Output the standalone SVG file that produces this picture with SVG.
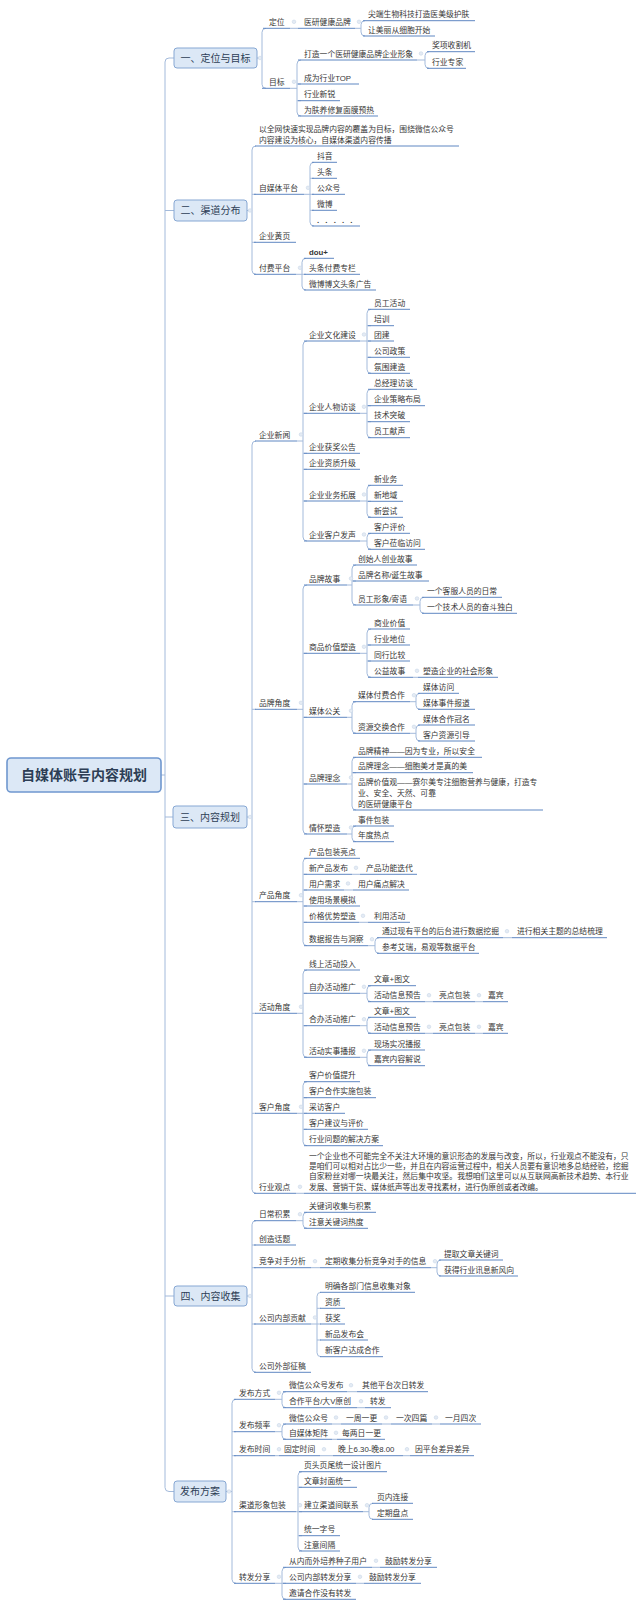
<svg xmlns="http://www.w3.org/2000/svg" width="640" height="1606" viewBox="0 0 640 1606">
<style>
text{font-family:'Liberation Sans','Noto Sans CJK SC',sans-serif;font-size:7.8px;fill:#363636}
.u{stroke:#5f87c2;stroke-width:1;fill:none}
.c{stroke:#a3badb;stroke-width:1;fill:none}
.d{fill:#e4ebf4;stroke:#c9d6e8;stroke-width:0.6}
.b{fill:#dce8f6;stroke:#86a7d3;stroke-width:1}
.bt{font-size:10px;fill:#2d3e55;text-anchor:middle}
.rt{font-size:14px;font-weight:bold;fill:#2d3e55;text-anchor:middle}
</style>
<rect width="640" height="1606" fill="#ffffff"/>
<g id="connectors">
<path class="c" d="M174,58 H169 Q165,58 165,62 V1487.5 Q165,1491.5 169,1491.5 H174 M161,775 H165 M165,210.5 H174 M165,817 H173 M165,1296 H174"/>
<path class="c" d="M257,58 H262 M266,28.3 Q262,28.3 262,32.3 V84.3 Q262,88.3 266,88.3"/>
<path class="c" d="M290,28.3 H298"/>
<path class="c" d="M355,28.3 H361 M365,20.7 Q361,20.7 361,24.7 V32 Q361,36 365,36"/>
<path class="c" d="M290,88.3 H297 M301,60 Q297,60 297,64 V112 Q297,116 301,116 M297,84 H301 M297,100.7 H301"/>
<path class="c" d="M417,60 H425 M429,51.7 Q425,51.7 425,55.7 V64.3 Q425,68.3 429,68.3"/>
<path class="c" d="M247,210.5 H252 M256,146 Q252,146 252,150 V270.3 Q252,274.3 256,274.3 M252,194.3 H256 M252,242.3 H256"/>
<path class="c" d="M304,194.3 H310 M314,162.3 Q310,162.3 310,166.3 V222 Q310,226 314,226 M310,178.3 H314 M310,194.3 H314 M310,210.3 H314"/>
<path class="c" d="M296,274.3 H302 M306,258.3 Q302,258.3 302,262.3 V286 Q302,290 306,290 M302,274.3 H306"/>
<path class="c" d="M247,817 H252 M256,441 Q252,441 252,445 V1189.3 Q252,1193.3 256,1193.3 M252,709.3 H256 M252,901.7 H256 M252,1013.3 H256 M252,1113.3 H256"/>
<path class="c" d="M297,441 H303 M307,341 Q303,341 303,345 V537 Q303,541 307,541 M303,413.3 H307 M303,453.3 H307 M303,469.3 H307 M303,501 H307"/>
<path class="c" d="M360,341 H367 M371,309.3 Q367,309.3 367,313.3 V369.3 Q367,373.3 371,373.3 M367,325.7 H371 M367,341 H371 M367,357.3 H371"/>
<path class="c" d="M360,413.3 H367 M371,389.3 Q367,389.3 367,393.3 V433.7 Q367,437.7 371,437.7 M367,405.7 H371 M367,421.7 H371"/>
<path class="c" d="M360,501 H367 M371,485.3 Q367,485.3 367,489.3 V513.3 Q367,517.3 371,517.3 M367,501.3 H371"/>
<path class="c" d="M360,541 H367 M371,533.3 Q367,533.3 367,537.3 V545.3 Q367,549.3 371,549.3"/>
<path class="c" d="M297,709.3 H303 M307,585 Q303,585 303,589 V830 Q303,834 307,834 M303,653.3 H307 M303,717.3 H307 M303,784 H307"/>
<path class="c" d="M347,585 H352 M356,565 Q352,565 352,569 V601 Q352,605 356,605 M352,581 H356"/>
<path class="c" d="M413,605 H420 M424,597.3 Q420,597.3 420,601.3 V609.3 Q420,613.3 424,613.3"/>
<path class="c" d="M360,653.3 H367 M371,629 Q367,629 367,633 V673.3 Q367,677.3 371,677.3 M367,645 H371 M367,661 H371"/>
<path class="c" d="M413,677.3 H418"/>
<path class="c" d="M347,717.3 H352 M356,701.7 Q352,701.7 352,705.7 V729.3 Q352,733.3 356,733.3"/>
<path class="c" d="M410,701.7 H416 M420,693.3 Q416,693.3 416,697.3 V705.3 Q416,709.3 420,709.3"/>
<path class="c" d="M410,733.3 H416 M420,725 Q416,725 416,729 V737 Q416,741 420,741"/>
<path class="c" d="M347,784 H352 M356,757.3 Q352,757.3 352,761.3 V806 Q352,810 356,810 M352,772.7 H356"/>
<path class="c" d="M347,834 H352 M356,826 Q352,826 352,830 V837.7 Q352,841.7 356,841.7"/>
<path class="c" d="M297,901.7 H303 M307,858.3 Q303,858.3 303,862.3 V941.7 Q303,945.7 307,945.7 M303,874.3 H307 M303,890 H307 M303,906 H307 M303,922.3 H307"/>
<path class="c" d="M352,874.3 H360 M344,890 H353 M359,922.3 H368"/>
<path class="c" d="M368,945.7 H375 M379,937.7 Q375,937.7 375,941.7 V949.3 Q375,953.3 379,953.3 M503,937.7 H512"/>
<path class="c" d="M297,1013.3 H303 M307,970 Q303,970 303,974 V1053.3 Q303,1057.3 307,1057.3 M303,993.3 H307 M303,1025.7 H307"/>
<path class="c" d="M360,993.3 H367 M371,985.7 Q367,985.7 367,989.7 V997.7 Q367,1001.7 371,1001.7 M425,1001.7 H433 M475,1001.7 H483"/>
<path class="c" d="M360,1025.7 H367 M371,1017.3 Q367,1017.3 367,1021.3 V1029.3 Q367,1033.3 371,1033.3 M425,1033.3 H433 M475,1033.3 H483"/>
<path class="c" d="M360,1057.3 H367 M371,1050 Q367,1050 367,1054 V1061.7 Q367,1065.7 371,1065.7"/>
<path class="c" d="M297,1113.3 H303 M307,1081.7 Q303,1081.7 303,1085.7 V1141.7 Q303,1145.7 307,1145.7 M303,1097.7 H307 M303,1113.3 H307 M303,1129.3 H307"/>
<path class="c" d="M296,1193.3 H304"/>
<path class="c" d="M247,1296 H252 M256,1220.7 Q252,1220.7 252,1224.7 V1368.3 Q252,1372.3 256,1372.3 M252,1245 H256 M252,1267.7 H256 M252,1324 H256"/>
<path class="c" d="M296,1220.7 H303 M307,1212.3 Q303,1212.3 303,1216.3 V1224.3 Q303,1228.3 307,1228.3"/>
<path class="c" d="M311,1267.7 H320 M431,1267.7 H437 M441,1260 Q437,1260 437,1264 V1272 Q437,1276 441,1276"/>
<path class="c" d="M311,1324 H317 M321,1292.3 Q317,1292.3 317,1296.3 V1352.7 Q317,1356.7 321,1356.7 M317,1308.3 H321 M317,1324 H321 M317,1340 H321"/>
<path class="c" d="M226,1491.5 H232 M236,1399.3 Q232,1399.3 232,1403.3 V1579.3 Q232,1583.3 236,1583.3 M232,1431.7 H236 M232,1455.7 H236 M232,1511.7 H236"/>
<path class="c" d="M275,1399.3 H282 M286,1391.7 Q282,1391.7 282,1395.7 V1403.7 Q282,1407.7 286,1407.7 M347,1391.7 H357 M357,1407.7 H365"/>
<path class="c" d="M275,1431.7 H282 M286,1424 Q282,1424 282,1428 V1435.3 Q282,1439.3 286,1439.3 M332,1424 H341 M382,1424 H391 M432,1424 H440 M332,1439.3 H337"/>
<path class="c" d="M275,1455.7 H279 M320,1455.7 H333 M403,1455.7 H410"/>
<path class="c" d="M296,1511.7 H298 M302,1471.7 Q298,1471.7 298,1475.7 V1547 Q298,1551 302,1551 M298,1487.3 H302 M298,1511.7 H302 M298,1535.7 H302"/>
<path class="c" d="M363,1511.7 H369 M373,1503.3 Q369,1503.3 369,1507.3 V1515.3 Q369,1519.3 373,1519.3"/>
<path class="c" d="M275,1583.3 H282 M286,1567.3 Q282,1567.3 282,1571.3 V1595.3 Q282,1599.3 286,1599.3 M282,1583.3 H286 M372,1567.3 H380 M356,1583.3 H364"/>
<g class="d">
<circle cx="260" cy="58" r="1.8"/><circle cx="250" cy="210.5" r="1.8"/><circle cx="250" cy="817" r="1.8"/><circle cx="250" cy="1296" r="1.8"/><circle cx="229" cy="1491.5" r="1.8"/>
<circle cx="294" cy="21.8" r="1.8"/><circle cx="359" cy="21.8" r="1.8"/><circle cx="294" cy="81.8" r="1.8"/><circle cx="421" cy="53.5" r="1.8"/>
<circle cx="308" cy="187.8" r="1.8"/><circle cx="300" cy="267.8" r="1.8"/>
<circle cx="301" cy="434.5" r="1.8"/><circle cx="364" cy="334.5" r="1.8"/><circle cx="364" cy="406.8" r="1.8"/><circle cx="364" cy="494.5" r="1.8"/><circle cx="364" cy="534.5" r="1.8"/>
<circle cx="301" cy="702.8" r="1.8"/><circle cx="351" cy="578.5" r="1.8"/><circle cx="417" cy="598.5" r="1.8"/><circle cx="364" cy="646.8" r="1.8"/><circle cx="417" cy="670.8" r="1.8"/><circle cx="351" cy="710.8" r="1.8"/><circle cx="414" cy="695.2" r="1.8"/><circle cx="414" cy="726.8" r="1.8"/><circle cx="351" cy="777.5" r="1.8"/><circle cx="351" cy="827.5" r="1.8"/>
<circle cx="301" cy="895.2" r="1.8"/><circle cx="356" cy="867.8" r="1.8"/><circle cx="348" cy="883.5" r="1.8"/><circle cx="363" cy="915.8" r="1.8"/><circle cx="372" cy="939.2" r="1.8"/><circle cx="507" cy="931.2" r="1.8"/>
<circle cx="301" cy="1006.8" r="1.8"/><circle cx="364" cy="986.8" r="1.8"/><circle cx="429" cy="995.2" r="1.8"/><circle cx="479" cy="995.2" r="1.8"/><circle cx="364" cy="1019.2" r="1.8"/><circle cx="429" cy="1026.8" r="1.8"/><circle cx="479" cy="1026.8" r="1.8"/><circle cx="364" cy="1050.8" r="1.8"/>
<circle cx="301" cy="1106.8" r="1.8"/><circle cx="300" cy="1186.8" r="1.8"/>
<circle cx="300" cy="1214.2" r="1.8"/><circle cx="315" cy="1261.2" r="1.8"/><circle cx="435" cy="1261.2" r="1.8"/><circle cx="315" cy="1317.5" r="1.8"/>
<circle cx="279" cy="1392.8" r="1.8"/><circle cx="351" cy="1385.2" r="1.8"/><circle cx="361" cy="1401.2" r="1.8"/><circle cx="279" cy="1425.2" r="1.8"/><circle cx="336" cy="1417.5" r="1.8"/><circle cx="386" cy="1417.5" r="1.8"/><circle cx="436" cy="1417.5" r="1.8"/><circle cx="336" cy="1432.8" r="1.8"/>
<circle cx="279" cy="1449.2" r="1.8"/><circle cx="324" cy="1449.2" r="1.8"/><circle cx="407" cy="1449.2" r="1.8"/><circle cx="300" cy="1505.2" r="1.8"/><circle cx="367" cy="1505.2" r="1.8"/>
<circle cx="279" cy="1576.8" r="1.8"/><circle cx="376" cy="1560.8" r="1.8"/><circle cx="360" cy="1576.8" r="1.8"/>
</g>
</g>
<g id="root"><rect x="7" y="758" width="154" height="34" rx="4" fill="#dce8f6" stroke="#6f97cf" stroke-width="1.6"/><text class="rt" x="84" y="780">自媒体账号内容规划</text></g>
<g id="s1"><rect class="b" x="174" y="48" width="83" height="20" rx="3"/><text class="bt" x="215.5" y="61.5">一、定位与目标</text></g>
<g id="s2"><rect class="b" x="174" y="200" width="73" height="21" rx="3"/><text class="bt" x="210.5" y="214">二、渠道分布</text></g>
<g id="s3"><rect class="b" x="173" y="806" width="74" height="22" rx="3"/><text class="bt" x="210" y="820.5">三、内容规划</text></g>
<g id="s4"><rect class="b" x="174" y="1286" width="73" height="20" rx="3"/><text class="bt" x="210.5" y="1299.5">四、内容收集</text></g>
<g id="s5"><rect class="b" x="174" y="1481" width="52" height="21" rx="3"/><text class="bt" x="200" y="1495">发布方案</text></g>

<g id="n-dw"><text x="269" y="24.8">定位</text><path class="u" d="M263,28.3H290"/></g>
<g id="n-yy"><text x="304" y="24.8">医研健康品牌</text><path class="u" d="M298,28.3H355"/></g>
<g id="n-jd"><text x="368" y="17.2">尖端生物科技打造医美级护肤</text><path class="u" d="M363,20.7H475"/></g>
<g id="n-rm"><text x="368" y="32.5">让美丽从细胞开始</text><path class="u" d="M363,36H435"/></g>
<g id="n-mb"><text x="269" y="84.8">目标</text><path class="u" d="M262,88.3H290"/></g>
<g id="n-dz"><text x="304" y="56.5">打造一个医研健康品牌企业形象</text><path class="u" d="M298,60H417"/></g>
<g id="n-jx"><text x="432" y="48.2">奖项收割机</text><path class="u" d="M427,51.7H475"/></g>
<g id="n-hz"><text x="432" y="64.8">行业专家</text><path class="u" d="M427,68.3H466"/></g>
<g id="n-top"><text x="304" y="80.5">成为行业TOP</text><path class="u" d="M298,84H359"/></g>
<g id="n-xr"><text x="304" y="97.2">行业新锐</text><path class="u" d="M298,100.7H340"/></g>
<g id="n-mm"><text x="304" y="112.5">为肤养修复面膜预热</text><path class="u" d="M298,116H378"/></g>

<g id="n-qw"><text x="259" y="131.5">以全网快速实现品牌内容的覆盖为目标，围绕微信公众号</text><text x="259" y="143">内容建设为核心，自媒体渠道内容传播</text><path class="u" d="M255,146H459"/></g>
<g id="n-zmt"><text x="259" y="190.8">自媒体平台</text><path class="u" d="M254,194.3H304"/></g>
<g id="n-dy"><text x="317" y="158.8">抖音</text><path class="u" d="M312,162.3H337"/></g>
<g id="n-tt"><text x="317" y="174.8">头条</text><path class="u" d="M312,178.3H337"/></g>
<g id="n-gzh"><text x="317" y="190.8">公众号</text><path class="u" d="M312,194.3H345"/></g>
<g id="n-wb"><text x="317" y="206.8">微博</text><path class="u" d="M312,210.3H337"/></g>
<g id="n-etc"><text x="317" y="222.5" font-weight="bold" letter-spacing="2">. . . . .</text><path class="u" d="M312,226H360"/></g>
<g id="n-hy"><text x="259" y="238.8">企业黄页</text><path class="u" d="M254,242.3H296"/></g>
<g id="n-ff"><text x="259" y="270.8">付费平台</text><path class="u" d="M254,274.3H296"/></g>
<g id="n-dou"><text x="309" y="254.8" font-weight="bold">dou+</text><path class="u" d="M304,258.3H334"/></g>
<g id="n-ttzl"><text x="309" y="270.8">头条付费专栏</text><path class="u" d="M304,274.3H360"/></g>
<g id="n-wbgg"><text x="309" y="286.5">微博博文头条广告</text><path class="u" d="M304,290H376"/></g>

<g id="n-qyxw"><text x="259" y="437.5">企业新闻</text><path class="u" d="M255,441H297"/></g>
<g id="n-whjs"><text x="309" y="337.5">企业文化建设</text><path class="u" d="M304,341H360"/></g>
<g id="n-yghd"><text x="374" y="305.8">员工活动</text><path class="u" d="M368,309.3H410"/></g>
<g id="n-px"><text x="374" y="322.2">培训</text><path class="u" d="M368,325.7H394"/></g>
<g id="n-tj"><text x="374" y="337.5">团建</text><path class="u" d="M368,341H394"/></g>
<g id="n-gszc"><text x="374" y="353.8">公司政策</text><path class="u" d="M368,357.3H410"/></g>
<g id="n-fwjz"><text x="374" y="369.8">氛围建造</text><path class="u" d="M368,373.3H410"/></g>
<g id="n-rwft"><text x="309" y="409.8">企业人物访谈</text><path class="u" d="M304,413.3H360"/></g>
<g id="n-zjl"><text x="374" y="385.8">总经理访谈</text><path class="u" d="M368,389.3H417"/></g>
<g id="n-clbj"><text x="374" y="402.2">企业策略布局</text><path class="u" d="M368,405.7H425"/></g>
<g id="n-jstp"><text x="374" y="418.2">技术突破</text><path class="u" d="M368,421.7H410"/></g>
<g id="n-ygxs"><text x="374" y="434.2">员工献声</text><path class="u" d="M368,437.7H410"/></g>
<g id="n-hjgg"><text x="309" y="449.8">企业获奖公告</text><path class="u" d="M304,453.3H360"/></g>
<g id="n-zzsj"><text x="309" y="465.8">企业资质升级</text><path class="u" d="M304,469.3H360"/></g>
<g id="n-ywtz"><text x="309" y="497.5">企业业务拓展</text><path class="u" d="M304,501H360"/></g>
<g id="n-xyw"><text x="374" y="481.8">新业务</text><path class="u" d="M368,485.3H403"/></g>
<g id="n-xdy"><text x="374" y="497.8">新地域</text><path class="u" d="M368,501.3H403"/></g>
<g id="n-xcs"><text x="374" y="513.8">新尝试</text><path class="u" d="M368,517.3H403"/></g>
<g id="n-khfs"><text x="309" y="537.5">企业客户发声</text><path class="u" d="M304,541H360"/></g>
<g id="n-khpj"><text x="374" y="529.8">客户评价</text><path class="u" d="M368,533.3H410"/></g>
<g id="n-khll"><text x="374" y="545.8">客户莅临访问</text><path class="u" d="M368,549.3H425"/></g>

<g id="n-ppjd"><text x="259" y="705.8">品牌角度</text><path class="u" d="M255,709.3H297"/></g>
<g id="n-ppgs"><text x="309" y="581.5">品牌故事</text><path class="u" d="M304,585H347"/></g>
<g id="n-csr"><text x="358" y="561.5">创始人创业故事</text><path class="u" d="M353,565H417"/></g>
<g id="n-ppmc"><text x="358" y="577.5">品牌名称/诞生故事</text><path class="u" d="M353,581H429"/></g>
<g id="n-ygxx"><text x="358" y="601.5">员工形象/寄语</text><path class="u" d="M353,605H413"/></g>
<g id="n-kf"><text x="427" y="593.8">一个客服人员的日常</text><path class="u" d="M422,597.3H502"/></g>
<g id="n-js"><text x="427" y="609.8">一个技术人员的奋斗独白</text><path class="u" d="M422,613.3H517"/></g>
<g id="n-spjz"><text x="309" y="649.8">商品价值塑造</text><path class="u" d="M304,653.3H360"/></g>
<g id="n-syjz"><text x="374" y="625.5">商业价值</text><path class="u" d="M368,629H410"/></g>
<g id="n-hydw"><text x="374" y="641.5">行业地位</text><path class="u" d="M368,645H410"/></g>
<g id="n-thbj"><text x="374" y="657.5">同行比较</text><path class="u" d="M368,661H410"/></g>
<g id="n-gygs"><text x="374" y="673.8">公益故事</text><path class="u" d="M368,677.3H413"/></g>
<g id="n-shxx"><text x="423" y="673.8">塑造企业的社会形象</text><path class="u" d="M418,677.3H498"/></g>
<g id="n-mtgg"><text x="309" y="713.8">媒体公关</text><path class="u" d="M304,717.3H347"/></g>
<g id="n-mtff"><text x="358" y="698.2">媒体付费合作</text><path class="u" d="M353,701.7H410"/></g>
<g id="n-mtfw"><text x="423" y="689.8">媒体访问</text><path class="u" d="M418,693.3H459"/></g>
<g id="n-mtsj"><text x="423" y="705.8">媒体事件报道</text><path class="u" d="M418,709.3H475"/></g>
<g id="n-zyjh"><text x="358" y="729.8">资源交换合作</text><path class="u" d="M353,733.3H410"/></g>
<g id="n-mtgm"><text x="423" y="721.5">媒体合作冠名</text><path class="u" d="M418,725H475"/></g>
<g id="n-khzy"><text x="423" y="737.5">客户资源引导</text><path class="u" d="M418,741H475"/></g>
<g id="n-ppln"><text x="309" y="780.5">品牌理念</text><path class="u" d="M304,784H347"/></g>
<g id="n-ppjs"><text x="358" y="753.8">品牌精神——因为专业，所以安全</text><path class="u" d="M353,757.3H482"/></g>
<g id="n-ppln2"><text x="358" y="769.2">品牌理念——细胞美才是真的美</text><path class="u" d="M353,772.7H473"/></g>
<g id="n-ppjzg"><text x="358" y="785">品牌价值观——赛尔美专注细胞营养与健康，打造专</text><text x="358" y="795.8">业、安全、天然、可靠</text><text x="358" y="806.5">的医研健康平台</text><path class="u" d="M353,810H543"/></g>
<g id="n-qhsz"><text x="309" y="830.5">情怀塑造</text><path class="u" d="M304,834H347"/></g>
<g id="n-sjbz"><text x="358" y="822.5">事件包装</text><path class="u" d="M353,826H394"/></g>
<g id="n-ndrd"><text x="358" y="838.2">年度热点</text><path class="u" d="M353,841.7H394"/></g>

<g id="n-cpjd"><text x="259" y="898.2">产品角度</text><path class="u" d="M255,901.7H297"/></g>
<g id="n-cpbz"><text x="309" y="854.8">产品包装亮点</text><path class="u" d="M304,858.3H360"/></g>
<g id="n-xcp"><text x="309" y="870.8">新产品发布</text><path class="u" d="M304,874.3H352"/></g>
<g id="n-cpgn"><text x="366" y="870.8">产品功能迭代</text><path class="u" d="M360,874.3H417"/></g>
<g id="n-yhxq"><text x="309" y="886.5">用户需求</text><path class="u" d="M304,890H344"/></g>
<g id="n-yhtd"><text x="358" y="886.5">用户痛点解决</text><path class="u" d="M353,890H409"/></g>
<g id="n-sycj"><text x="309" y="902.5">使用场景模拟</text><path class="u" d="M304,906H360"/></g>
<g id="n-jgys"><text x="309" y="918.8">价格优势塑造</text><path class="u" d="M304,922.3H359"/></g>
<g id="n-lyhd"><text x="374" y="918.8">利用活动</text><path class="u" d="M368,922.3H410"/></g>
<g id="n-sjbg"><text x="309" y="942.2">数据报告与洞察</text><path class="u" d="M304,945.7H368"/></g>
<g id="n-tgxy"><text x="382" y="934.2">通过现有平台的后台进行数据挖掘</text><path class="u" d="M377,937.7H503"/></g>
<g id="n-zjsl"><text x="517" y="934.2">进行相关主题的总结梳理</text><path class="u" d="M512,937.7H607"/></g>
<g id="n-ckar"><text x="382" y="949.8">参考艾瑞，易观等数据平台</text><path class="u" d="M377,953.3H479"/></g>

<g id="n-hdjd"><text x="259" y="1009.8">活动角度</text><path class="u" d="M255,1013.3H297"/></g>
<g id="n-xshd"><text x="309" y="966.5">线上活动投入</text><path class="u" d="M304,970H360"/></g>
<g id="n-zbhd"><text x="309" y="989.8">自办活动推广</text><path class="u" d="M304,993.3H360"/></g>
<g id="n-wztw1"><text x="374" y="982.2">文章+图文</text><path class="u" d="M368,985.7H416"/></g>
<g id="n-hdyg1"><text x="374" y="998.2">活动信息预告</text><path class="u" d="M368,1001.7H425"/></g>
<g id="n-ldbz1"><text x="439" y="998.2">亮点包装</text><path class="u" d="M433,1001.7H475"/></g>
<g id="n-jb1"><text x="488" y="998.2">嘉宾</text><path class="u" d="M483,1001.7H508"/></g>
<g id="n-hbhd"><text x="309" y="1022.2">合办活动推广</text><path class="u" d="M304,1025.7H360"/></g>
<g id="n-wztw2"><text x="374" y="1013.8">文章+图文</text><path class="u" d="M368,1017.3H416"/></g>
<g id="n-hdyg2"><text x="374" y="1029.8">活动信息预告</text><path class="u" d="M368,1033.3H425"/></g>
<g id="n-ldbz2"><text x="439" y="1029.8">亮点包装</text><path class="u" d="M433,1033.3H475"/></g>
<g id="n-jb2"><text x="488" y="1029.8">嘉宾</text><path class="u" d="M483,1033.3H508"/></g>
<g id="n-hdss"><text x="309" y="1053.8">活动实事播报</text><path class="u" d="M304,1057.3H360"/></g>
<g id="n-xcsk"><text x="374" y="1046.5">现场实况播报</text><path class="u" d="M368,1050H425"/></g>
<g id="n-jbnr"><text x="374" y="1062.2">嘉宾内容解说</text><path class="u" d="M368,1065.7H425"/></g>

<g id="n-khjd"><text x="259" y="1109.8">客户角度</text><path class="u" d="M255,1113.3H297"/></g>
<g id="n-khjz"><text x="309" y="1078.2">客户价值提升</text><path class="u" d="M304,1081.7H360"/></g>
<g id="n-khhz"><text x="309" y="1094.2">客户合作实施包装</text><path class="u" d="M304,1097.7H376"/></g>
<g id="n-cfkh"><text x="309" y="1109.8">采访客户</text><path class="u" d="M304,1113.3H345"/></g>
<g id="n-khjy"><text x="309" y="1125.8">客户建议与评价</text><path class="u" d="M304,1129.3H368"/></g>
<g id="n-hywt"><text x="309" y="1142.2">行业问题的解决方案</text><path class="u" d="M304,1145.7H383"/></g>
<g id="n-hygd"><text x="259" y="1189.8">行业观点</text><path class="u" d="M254,1193.3H296"/></g>
<g id="n-para"><text x="309" y="1158.5">一个企业也不可能完全不关注大环境的意识形态的发展与改变，所以，行业观点不能没有，只</text><text x="309" y="1169">是咱们可以相对占比少一些，并且在内容运营过程中，相关人员要有意识地多总结经验，挖掘</text><text x="309" y="1179.3">自家粉丝对哪一块最关注，然后集中攻坚。我想咱们这里可以从互联网高新技术趋势、本行业</text><text x="309" y="1189.6">发展、营销干货、媒体纸声等出发寻找素材，进行伪原创或者改编。</text><path class="u" d="M304,1193.3H636"/></g>

<g id="n-rcjl"><text x="259" y="1217.2">日常积累</text><path class="u" d="M254,1220.7H296"/></g>
<g id="n-gjc"><text x="309" y="1208.8">关键词收集与积累</text><path class="u" d="M304,1212.3H376"/></g>
<g id="n-zyrd"><text x="309" y="1224.8">注意关键词热度</text><path class="u" d="M304,1228.3H368"/></g>
<g id="n-czht"><text x="259" y="1241.5">创造话题</text><path class="u" d="M254,1245H296"/></g>
<g id="n-jzds"><text x="259" y="1264.2">竞争对手分析</text><path class="u" d="M254,1267.7H311"/></g>
<g id="n-dqsj"><text x="325" y="1264.2">定期收集分析竞争对手的信息</text><path class="u" d="M320,1267.7H431"/></g>
<g id="n-tqwz"><text x="444" y="1256.5">提取文章关键词</text><path class="u" d="M439,1260H503"/></g>
<g id="n-hdxx"><text x="444" y="1272.5">获得行业讯息新风向</text><path class="u" d="M439,1276H518"/></g>
<g id="n-nbgx"><text x="259" y="1320.5">公司内部贡献</text><path class="u" d="M254,1324H311"/></g>
<g id="n-mqbm"><text x="325" y="1288.8">明确各部门信息收集对象</text><path class="u" d="M320,1292.3H415"/></g>
<g id="n-zz"><text x="325" y="1304.8">资质</text><path class="u" d="M320,1308.3H345"/></g>
<g id="n-hj"><text x="325" y="1320.5">获奖</text><path class="u" d="M320,1324H345"/></g>
<g id="n-xpfb"><text x="325" y="1336.5">新品发布会</text><path class="u" d="M320,1340H368"/></g>
<g id="n-xkh"><text x="325" y="1353.2">新客户达成合作</text><path class="u" d="M320,1356.7H383"/></g>
<g id="n-wbzg"><text x="259" y="1368.8">公司外部征稿</text><path class="u" d="M254,1372.3H311"/></g>

<g id="n-fbfs"><text x="239" y="1395.8">发布方式</text><path class="u" d="M234,1399.3H275"/></g>
<g id="n-wxfb"><text x="289" y="1388.2">微信公众号发布</text><path class="u" d="M283,1391.7H347"/></g>
<g id="n-qtpt"><text x="362" y="1388.2">其他平台次日转发</text><path class="u" d="M357,1391.7H428"/></g>
<g id="n-hzpt"><text x="289" y="1404.2">合作平台/大V原创</text><path class="u" d="M283,1407.7H357"/></g>
<g id="n-zf"><text x="370" y="1404.2">转发</text><path class="u" d="M365,1407.7H391"/></g>
<g id="n-fbpl"><text x="239" y="1428.2">发布频率</text><path class="u" d="M234,1431.7H275"/></g>
<g id="n-wxgzh"><text x="289" y="1420.5">微信公众号</text><path class="u" d="M283,1424H332"/></g>
<g id="n-yzyg"><text x="346" y="1420.5">一周一更</text><path class="u" d="M341,1424H382"/></g>
<g id="n-ycsp"><text x="396" y="1420.5">一次四篇</text><path class="u" d="M391,1424H432"/></g>
<g id="n-yysc"><text x="445" y="1420.5">一月四次</text><path class="u" d="M440,1424H481"/></g>
<g id="n-zmtjz"><text x="289" y="1435.8">自媒体矩阵</text><path class="u" d="M283,1439.3H332"/></g>
<g id="n-mlr"><text x="342" y="1435.8">每两日一更</text><path class="u" d="M337,1439.3H385"/></g>
<g id="n-fbsj"><text x="239" y="1452.2">发布时间</text><path class="u" d="M234,1455.7H275"/></g>
<g id="n-gdsj"><text x="284" y="1452.2">固定时间</text><path class="u" d="M279,1455.7H320"/></g>
<g id="n-ws"><text x="338" y="1452.2">晚上6.30-晚8.00</text><path class="u" d="M333,1455.7H403"/></g>
<g id="n-ypt"><text x="415" y="1452.2">因平台差异差异</text><path class="u" d="M410,1455.7H474"/></g>
<g id="n-qdxx"><text x="239" y="1508.2">渠道形象包装</text><path class="u" d="M234,1511.7H296"/></g>
<g id="n-ytyw"><text x="304" y="1468.2">页头页尾统一设计图片</text><path class="u" d="M299,1471.7H387"/></g>
<g id="n-wzfm"><text x="304" y="1483.8">文章封面统一</text><path class="u" d="M299,1487.3H357"/></g>
<g id="n-jlqd"><text x="304" y="1508.2">建立渠道间联系</text><path class="u" d="M299,1511.7H363"/></g>
<g id="n-ynlj"><text x="377" y="1499.8">页内连接</text><path class="u" d="M372,1503.3H413"/></g>
<g id="n-dqpd"><text x="377" y="1515.8">定期盘点</text><path class="u" d="M372,1519.3H413"/></g>
<g id="n-tyzh"><text x="304" y="1532.2">统一字号</text><path class="u" d="M299,1535.7H340"/></g>
<g id="n-zyjg"><text x="304" y="1547.5">注意间隔</text><path class="u" d="M299,1551H340"/></g>
<g id="n-zffx"><text x="239" y="1579.8">转发分享</text><path class="u" d="M234,1583.3H275"/></g>
<g id="n-cnew"><text x="289" y="1563.8">从内而外培养种子用户</text><path class="u" d="M283,1567.3H372"/></g>
<g id="n-gl1"><text x="385" y="1563.8">鼓励转发分享</text><path class="u" d="M380,1567.3H437"/></g>
<g id="n-gsnb"><text x="289" y="1579.8">公司内部转发分享</text><path class="u" d="M283,1583.3H356"/></g>
<g id="n-gl2"><text x="369" y="1579.8">鼓励转发分享</text><path class="u" d="M364,1583.3H421"/></g>
<g id="n-yqhz"><text x="289" y="1595.8">邀请合作没有转发</text><path class="u" d="M283,1599.3H356"/></g>
</svg>
